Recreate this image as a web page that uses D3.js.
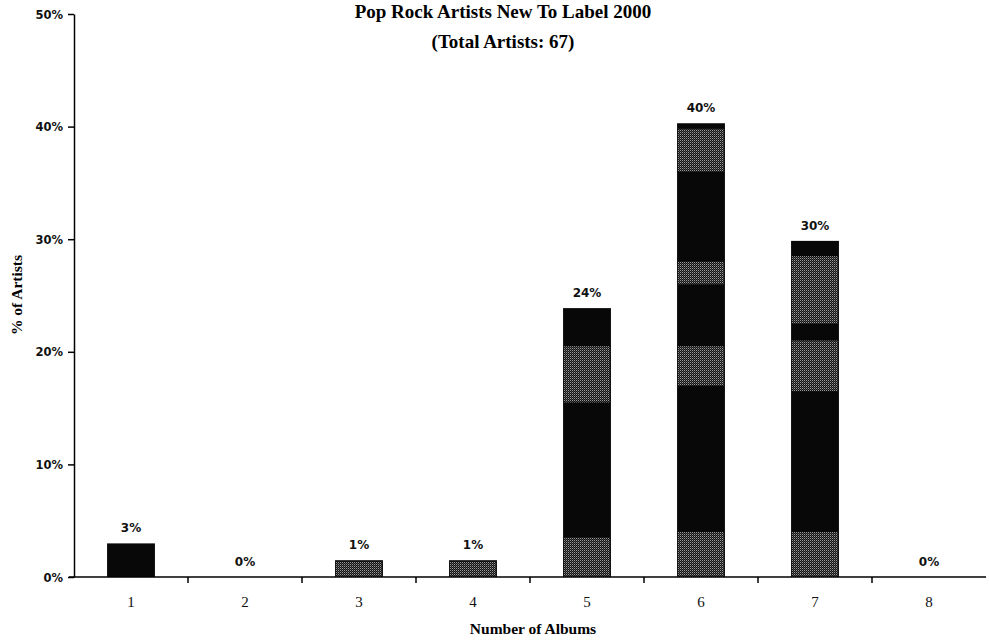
<!DOCTYPE html>
<html>
<head>
<meta charset="utf-8">
<script src="https://cdn.jsdelivr.net/npm/d3@7"></script>
<style>
  html, body { margin: 0; padding: 0; background: #fff; }
  svg { display: block; }
</style>
</head>
<body>
<svg id="chart" width="989" height="642"></svg>
<script>
// Number of albums (categories) and artist counts per category
const albums = ["1", "2", "3", "4", "5", "6", "7", "8"];
const artistCounts = [2, 0, 1, 1, 16, 27, 20, 0];
const totalArtists = 67;
const yTicks = [0, 0.1, 0.2, 0.3, 0.4, 0.5];

const titleText = "Pop Rock Artists New To Label 2000";
const subtitleText = "(Total Artists: " + totalArtists + ")";
const xTitle = "Number of Albums";
const yTitle = "% of Artists";

const shares = artistCounts.map(c => c / totalArtists);

const svg = d3.select("#chart");
const margin = { left: 74, right: 3, top: 14, bottom: 65 };
const W = 989, H = 642;

const x = d3.scaleBand()
  .domain(albums)
  .range([margin.left, W - margin.right])
  .paddingInner(0.58)
  .paddingOuter(0.29);

const xOuter = d3.scaleBand()
  .domain(albums)
  .range([margin.left, W - margin.right]);

const y = d3.scaleLinear()
  .domain([0, 0.5])
  .range([H - margin.bottom, margin.top]);

// halftone stipple used for the lighter bands of the bars
const defs = svg.append("defs");
const pat = defs.append("pattern")
  .attr("id", "stipple")
  .attr("width", 2).attr("height", 2)
  .attr("patternUnits", "userSpaceOnUse");
pat.append("rect").attr("width", 2).attr("height", 2).attr("fill", "#141414");
pat.append("rect").attr("x", 0).attr("y", 0).attr("width", 1).attr("height", 1).attr("fill", "#9a9a9a");
pat.append("rect").attr("x", 1).attr("y", 1).attr("width", 1).attr("height", 1).attr("fill", "#4a4a4a");

// share ranges (per bar) drawn with the lighter halftone
const halftoneBands = [
  [],
  [],
  [[0, 1]],
  [[0, 1]],
  [[0, 0.035], [0.155, 0.205]],
  [[0, 0.04], [0.17, 0.205], [0.26, 0.28], [0.36, 0.398]],
  [[0, 0.04], [0.165, 0.21], [0.225, 0.285]],
  []
];

const bars = svg.append("g");
albums.forEach((a, i) => {
  const v = shares[i];
  if (v <= 0) return;
  const g = bars.append("g");
  const clipId = "clip" + i;
  defs.append("clipPath").attr("id", clipId)
    .append("rect")
    .attr("x", x(a) + 1).attr("y", y(v) + 1.5)
    .attr("width", x.bandwidth() - 2).attr("height", Math.max(0, y(0) - y(v) - 1.5));
  g.append("rect")
    .attr("x", x(a)).attr("y", y(v))
    .attr("width", x.bandwidth()).attr("height", y(0) - y(v))
    .attr("fill", "#080808");
  g.append("g").attr("clip-path", "url(#" + clipId + ")")
    .selectAll("rect").data(halftoneBands[i]).join("rect")
    .attr("x", x(a)).attr("width", x.bandwidth())
    .attr("y", d => y(d[1]))
    .attr("height", d => y(d[0]) - y(d[1]))
    .attr("fill", "url(#stipple)");
});

// value labels
const fmt = d3.format(".0%");
svg.append("g").selectAll("text").data(albums).join("text")
  .attr("x", d => x(d) + x.bandwidth() / 2)
  .attr("y", (d, i) => y(shares[i]) - 11)
  .attr("text-anchor", "middle")
  .attr("font-family", "'DejaVu Sans', sans-serif")
  .attr("font-size", 12)
  .attr("font-weight", "bold")
  .attr("fill", "#111")
  .text((d, i) => fmt(shares[i]));

// y axis
const yAxis = d3.axisLeft(y).tickValues(yTicks).tickFormat(d3.format(".0%")).tickSize(6).tickSizeOuter(0);
const gy = svg.append("g").attr("transform", `translate(${margin.left},0)`).call(yAxis);
gy.select(".domain").attr("stroke", "#000").attr("stroke-width", 1.5);
gy.selectAll(".tick line").attr("stroke", "#000").attr("stroke-width", 1.5);
gy.selectAll(".tick text")
  .attr("font-family", "'DejaVu Sans', sans-serif")
  .attr("font-size", 11.5)
  .attr("font-weight", "bold")
  .attr("fill", "#111")
  .attr("x", -11)
  .attr("dy", "0.35em");

// x axis with ticks between categories
const xAxisY = y(0);
const gx = svg.append("g");
gx.append("line")
  .attr("x1", margin.left - 5).attr("x2", W - margin.right)
  .attr("y1", xAxisY).attr("y2", xAxisY)
  .attr("stroke", "#000").attr("stroke-width", 1.5);
gx.selectAll("line.sep").data(albums.slice(1)).join("line")
  .attr("class", "sep")
  .attr("x1", d => xOuter(d)).attr("x2", d => xOuter(d))
  .attr("y1", xAxisY).attr("y2", xAxisY + 6)
  .attr("stroke", "#000").attr("stroke-width", 1.5);
gx.selectAll("text").data(albums).join("text")
  .attr("x", d => xOuter(d) + xOuter.bandwidth() / 2)
  .attr("y", xAxisY + 30)
  .attr("text-anchor", "middle")
  .attr("font-family", "'Liberation Serif', serif")
  .attr("font-size", 15)
  .attr("fill", "#111")
  .text(d => d);

// titles
svg.append("text")
  .attr("x", 503).attr("y", 18)
  .attr("text-anchor", "middle")
  .attr("font-family", "'Liberation Serif', serif")
  .attr("font-weight", "bold").attr("font-size", 19)
  .text(titleText);
svg.append("text")
  .attr("x", 503).attr("y", 48)
  .attr("text-anchor", "middle")
  .attr("font-family", "'Liberation Serif', serif")
  .attr("font-weight", "bold").attr("font-size", 19)
  .text(subtitleText);
svg.append("text")
  .attr("x", 533).attr("y", 634)
  .attr("text-anchor", "middle")
  .attr("font-family", "'Liberation Serif', serif")
  .attr("font-weight", "bold").attr("font-size", 15.5)
  .text(xTitle);
svg.append("text")
  .attr("transform", "translate(22,295) rotate(-90)")
  .attr("text-anchor", "middle")
  .attr("font-family", "'Liberation Serif', serif")
  .attr("font-weight", "bold").attr("font-size", 15.5)
  .text(yTitle);
</script>
</body>
</html>
